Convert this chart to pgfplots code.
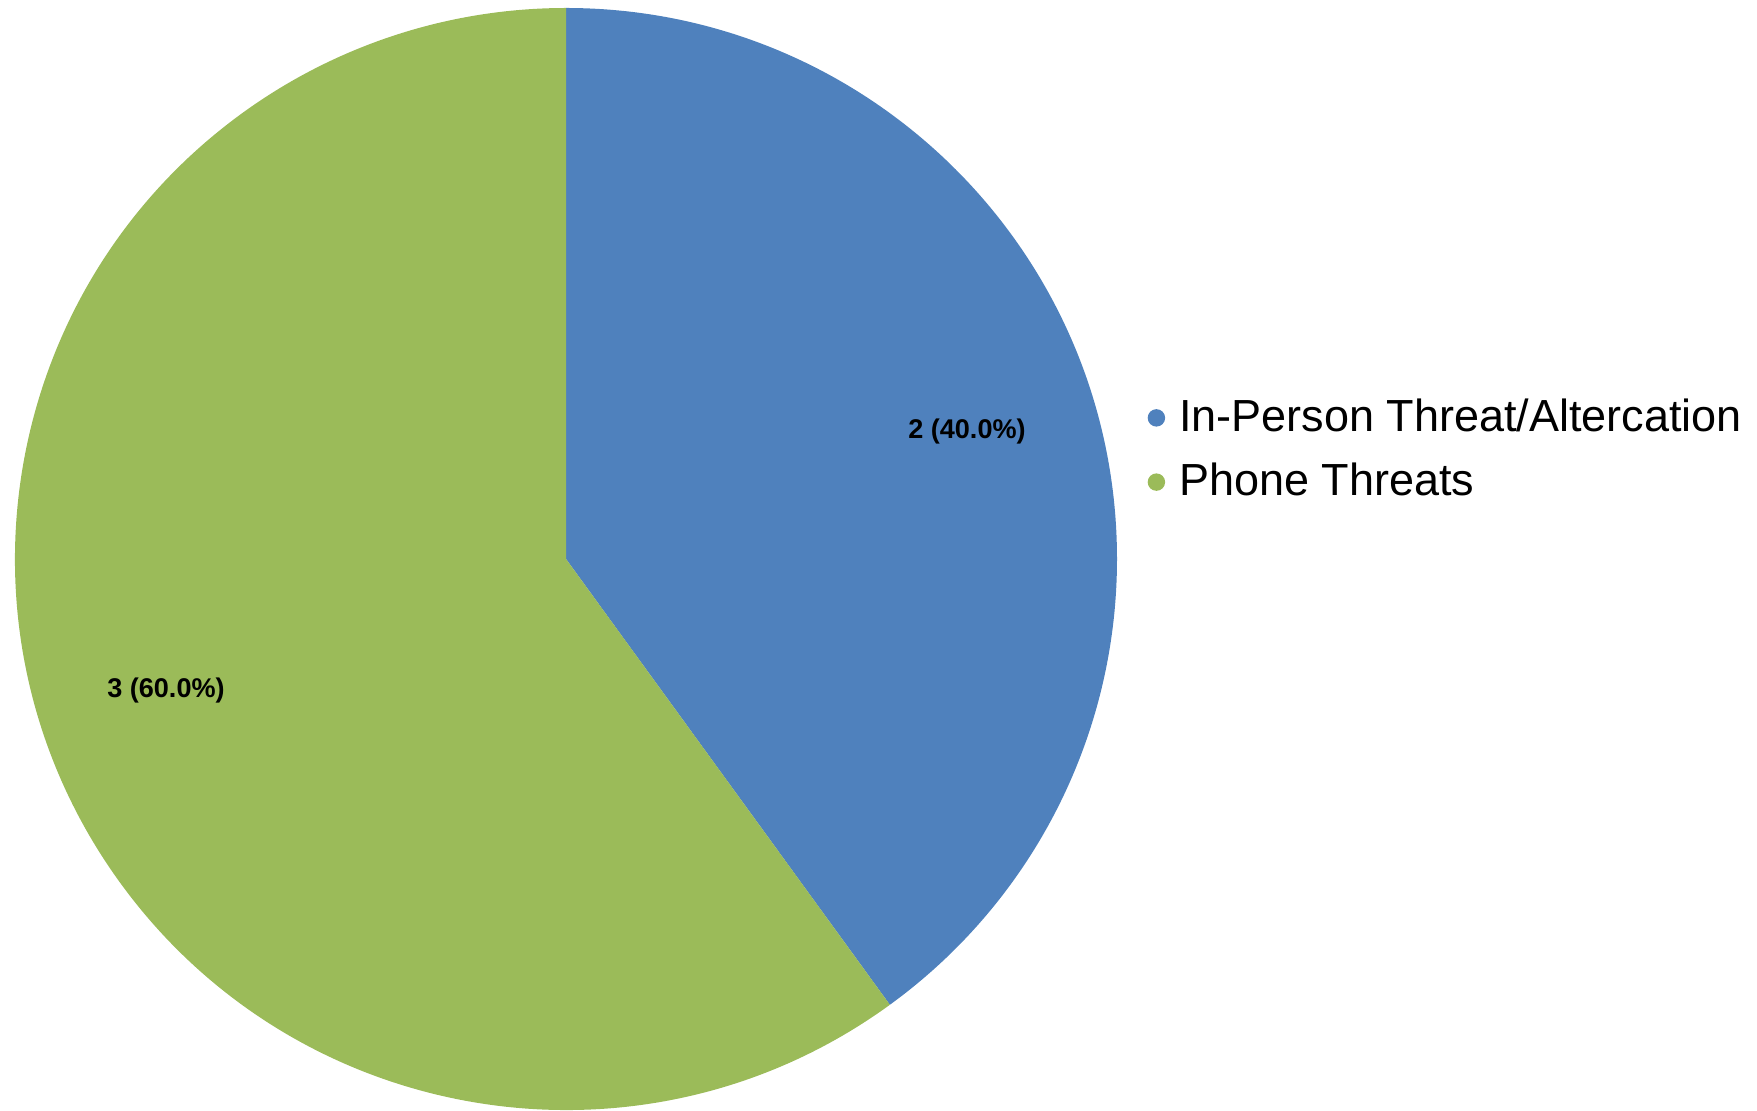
\documentclass[border=0pt]{standalone}
\usepackage{fontspec}
\setmainfont{Liberation Sans}
\usepackage{pgfplots}
\pgfplotsset{compat=1.18}
\definecolor{blueC}{HTML}{4F81BD}
\definecolor{greenC}{HTML}{9BBB59}
% data
\def\va{2}   % In-Person Threat/Altercation
\def\vb{3}   % Phone Threats
\pgfmathsetmacro{\tot}{\va+\vb}
\pgfmathsetmacro{\anga}{360*\va/\tot}
\pgfmathsetmacro{\endA}{90-\anga}
\pgfmathsetmacro{\endB}{\endA-360*\vb/\tot}
\pgfmathsetmacro{\pa}{100*\va/\tot}
\pgfmathsetmacro{\pb}{100*\vb/\tot}
\begin{document}
\begin{tikzpicture}
\begin{axis}[
  width=17.57cm, height=11.11cm, scale only axis,
  xmin=0, xmax=1757, ymin=0, ymax=1111,
  hide axis, clip=false,
  legend style={draw=none, fill=none, at={(axis cs:1147,661)}, anchor=west,
    font=\fontsize{12.8}{15}\selectfont, row sep=4.5pt, inner sep=0pt,
    nodes={inner sep=1.5pt}},
  legend cell align=left,
  legend image code/.code={\fill[#1] (0cm,0cm) circle (0.08cm); \path (0.17cm,0cm);},
  /pgf/number format/assume math mode=true,
]
\addlegendimage{blueC}
\addlegendentry{In-Person Threat/Altercation}
\addlegendimage{greenC}
\addlegendentry{Phone Threats}
\path (axis cs:0,0) rectangle (axis cs:1757,1111);
\fill[blueC, overlay] (axis cs:566,552) -- ++(90:5.51cm) arc[start angle=90, end angle=\endA, radius=5.51cm] -- cycle;
\fill[greenC, overlay] (axis cs:566,552) -- ++(\endA:5.51cm) arc[start angle=\endA, end angle=\endB, radius=5.51cm] -- cycle;
\node[font=\bfseries\fontsize{7.7}{9}\selectfont] at (axis cs:967,679) {\va\ (\pgfmathprintnumber[fixed,fixed zerofill,precision=1]{\pa}\%)};
\node[font=\bfseries\fontsize{7.7}{9}\selectfont] at (axis cs:166,420) {\vb\ (\pgfmathprintnumber[fixed,fixed zerofill,precision=1]{\pb}\%)};
\end{axis}
\end{tikzpicture}
\end{document}
